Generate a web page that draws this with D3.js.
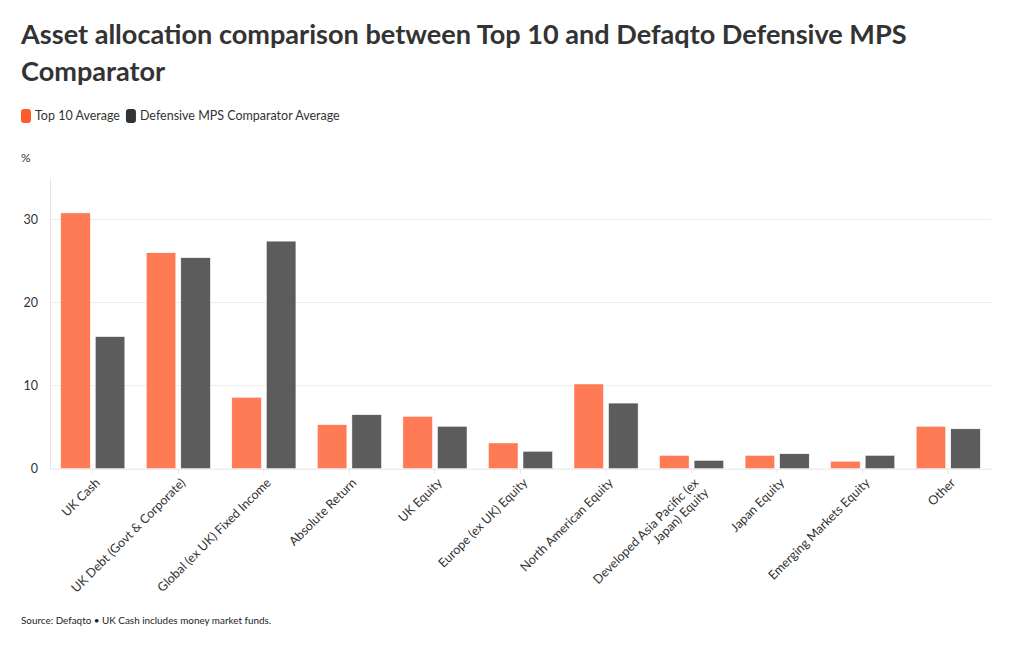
<!DOCTYPE html>
<html>
<head>
<meta charset="utf-8">
<script src="https://cdn.jsdelivr.net/npm/d3@7"></script>
<style>
  body { margin: 0; background: #fff; }
  svg { font-family: Lato, "Open Sans", sans-serif; }
</style>
</head>
<body>
<svg id="chart" width="1020" height="650"></svg>
<script>
const categories = [
  "UK Cash",
  "UK Debt (Govt & Corporate)",
  "Global (ex UK) Fixed Income",
  "Absolute Return",
  "UK Equity",
  "Europe (ex UK) Equity",
  "North American Equity",
  "Developed Asia Pacific (ex Japan) Equity",
  "Japan Equity",
  "Emerging Markets Equity",
  "Other"
];
const top10Average = [30.8, 26.0, 8.6, 5.3, 6.3, 3.1, 10.2, 1.6, 1.6, 0.9, 5.1];
const defensiveAverage = [15.9, 25.4, 27.4, 6.5, 5.1, 2.1, 7.9, 1.0, 1.8, 1.6, 4.8];
const seriesNames = ["Top 10 Average", "Defensive MPS Comparator Average"];
const seriesColors = ["#ff5a2a", "#333333"];
const yTicks = [0, 10, 20, 30];
const labelLines = {
  "Developed Asia Pacific (ex Japan) Equity": ["Developed Asia Pacific (ex", "Japan) Equity"]
};

const FONT = "Lato, 'Open Sans', sans-serif";
const svg = d3.select("#chart");
const margin = {left: 50, right: 991, top: 178, bottom: 468.7};

// Title
const title = svg.append("text").attr("fill", "#333")
  .style("font-size", "27.1px").style("font-weight", "700").style("font-family", FONT);
title.append("tspan").attr("x", 21).attr("y", 44).text("Asset allocation comparison between Top 10 and Defaqto Defensive MPS");
title.append("tspan").attr("x", 21).attr("y", 81).text("Comparator");

// Legend
const legend = svg.append("g");
let lx = 21;
seriesNames.forEach((name, i) => {
  legend.append("rect").attr("x", lx).attr("y", 109).attr("width", 10).attr("height", 14)
    .attr("rx", 3).attr("fill", seriesColors[i]);
  const t = legend.append("text").attr("x", lx + 14).attr("y", 119.5)
    .attr("fill", "#333").style("font-size", "12.5px").style("font-family", FONT).text(name);
  lx += 14 + t.node().getComputedTextLength() + 6;
});

// Scales
const x0 = d3.scaleBand().domain(categories).range([margin.left, margin.right]).paddingInner(0).paddingOuter(0);
const x1 = d3.scaleBand().domain(seriesNames).range([0, x0.bandwidth()]).paddingInner(0.145).paddingOuter(0.31);
const y = d3.scaleLinear().domain([0, 35]).range([margin.bottom, margin.top]);

// Unit label
svg.append("text").attr("x", 21).attr("y", 162).attr("fill", "#333")
  .style("font-size", "12px").style("font-family", FONT).text("%");

// Gridlines
svg.append("g").selectAll("line").data(yTicks.filter(d => d > 0)).join("line")
  .attr("x1", margin.left).attr("x2", margin.right)
  .attr("y1", d => y(d)).attr("y2", d => y(d))
  .attr("stroke", "#ececec").attr("stroke-width", 1);

// Y axis
const yAxis = svg.append("g").attr("transform", `translate(${margin.left},0)`)
  .call(d3.axisLeft(y).tickValues(yTicks).tickSize(0).tickPadding(12));
yAxis.select(".domain").attr("stroke", "#e6e6e6");
yAxis.selectAll("text").attr("fill", "#333").style("font-size", "12.5px").style("font-family", FONT);

// Bars
const data = categories.map((c, i) => ({cat: c, vals: [top10Average[i], defensiveAverage[i]]}));
const groups = svg.append("g").selectAll("g").data(data).join("g")
  .attr("transform", d => `translate(${x0(d.cat)},0)`);
groups.selectAll("rect").data(d => d.vals.map((v, i) => ({v, i}))).join("rect")
  .attr("x", d => x1(seriesNames[d.i]))
  .attr("width", x1.bandwidth())
  .attr("y", d => y(d.v))
  .attr("height", d => y(0) - y(d.v))
  .attr("fill", d => seriesColors[d.i])
  .attr("fill-opacity", 0.8)
  .attr("stroke", "#fff").attr("stroke-width", 0.5);

// X axis
const xAxis = svg.append("g").attr("transform", `translate(0,${margin.bottom})`)
  .call(d3.axisBottom(x0).tickSize(5).tickSizeOuter(0).tickFormat(""));
xAxis.select(".domain").attr("stroke", "#e6e6e6");
xAxis.selectAll(".tick line").attr("stroke", "#e6e6e6");
xAxis.selectAll(".tick").each(function(d) {
  const lines = labelLines[d] || [d];
  const t = d3.select(this).append("text")
    .attr("transform", "translate(5,12) rotate(-45)")
    .attr("text-anchor", "end").attr("fill", "#333")
    .style("font-size", "12.5px").style("font-family", FONT);
  lines.forEach((ln, k) => {
    t.append("tspan").attr("x", 0).attr("y", k * 14 + 4).attr("text-anchor", "end").text(ln);
  });
});

// Source
svg.append("text").attr("x", 21).attr("y", 624).attr("fill", "#222")
  .style("font-size", "9.9px").style("font-family", FONT)
  .text("Source: Defaqto • UK Cash includes money market funds.");
</script>
</body>
</html>
